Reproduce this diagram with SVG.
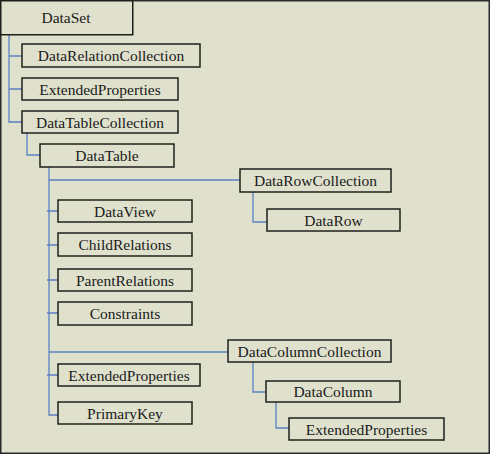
<svg xmlns="http://www.w3.org/2000/svg" width="490" height="454" viewBox="0 0 490 454">
<style>
.box{fill:#dfe1cd;stroke:#1f1f1a;stroke-width:1.5}
.t{font-family:"Liberation Serif","Times New Roman",serif;font-size:15.5px;fill:#1a1a1a;text-anchor:middle}
.c{fill:none;stroke:#5a80c0;stroke-width:1.3}
</style>
<rect x="0.75" y="0.75" width="488.5" height="452.5" fill="#dfe1cd" stroke="#2a2a2a" stroke-width="1.5"/>
<g id="connectors">
<path class="c" d="M9,35V122H22M9,56H22M9,89H22"/>
<path class="c" d="M27,133V155H40"/>
<path class="c" d="M49,167V415H58M49,180H240M47,211H58M47,245H58M47,280H58M47,313H58M49,352H228M47,375H58"/>
<path class="c" d="M253,192V222H267"/>
<path class="c" d="M253,362V392H266"/>
<path class="c" d="M276,402V428H289"/>
</g>
<g id="DataSet"><rect class="box" x="0.75" y="0.75" width="132" height="34"/><text class="t" x="66" y="23">DataSet</text></g>
<g id="DataRelationCollection"><rect class="box" x="22" y="44" width="178" height="23"/><text class="t" x="111" y="61">DataRelationCollection</text></g>
<g id="ExtendedProperties1"><rect class="box" x="22" y="78" width="156" height="22"/><text class="t" x="100" y="94.5">ExtendedProperties</text></g>
<g id="DataTableCollection"><rect class="box" x="22" y="111" width="156" height="22"/><text class="t" x="100" y="127.5">DataTableCollection</text></g>
<g id="DataTable"><rect class="box" x="40" y="144" width="134" height="23"/><text class="t" x="107" y="161">DataTable</text></g>
<g id="DataRowCollection"><rect class="box" x="240" y="169" width="151" height="23"/><text class="t" x="315.5" y="186">DataRowCollection</text></g>
<g id="DataRow"><rect class="box" x="267" y="209" width="133" height="22"/><text class="t" x="333.5" y="225.5">DataRow</text></g>
<g id="DataView"><rect class="box" x="58" y="200" width="134" height="22"/><text class="t" x="125" y="216.5">DataView</text></g>
<g id="ChildRelations"><rect class="box" x="58" y="233" width="134" height="23"/><text class="t" x="125" y="250">ChildRelations</text></g>
<g id="ParentRelations"><rect class="box" x="58" y="269" width="134" height="22"/><text class="t" x="125" y="285.5">ParentRelations</text></g>
<g id="Constraints"><rect class="box" x="58" y="302" width="134" height="23"/><text class="t" x="125" y="319">Constraints</text></g>
<g id="DataColumnCollection"><rect class="box" x="228" y="340" width="163" height="22"/><text class="t" x="309.5" y="356.5">DataColumnCollection</text></g>
<g id="ExtendedProperties2"><rect class="box" x="58" y="364" width="142" height="22"/><text class="t" x="129" y="380.5">ExtendedProperties</text></g>
<g id="PrimaryKey"><rect class="box" x="58" y="402" width="134" height="22"/><text class="t" x="125" y="418.5">PrimaryKey</text></g>
<g id="DataColumn"><rect class="box" x="266" y="381" width="134" height="21"/><text class="t" x="333" y="397">DataColumn</text></g>
<g id="ExtendedProperties3"><rect class="box" x="289" y="418" width="155" height="22"/><text class="t" x="366.5" y="434.5">ExtendedProperties</text></g>
</svg>
